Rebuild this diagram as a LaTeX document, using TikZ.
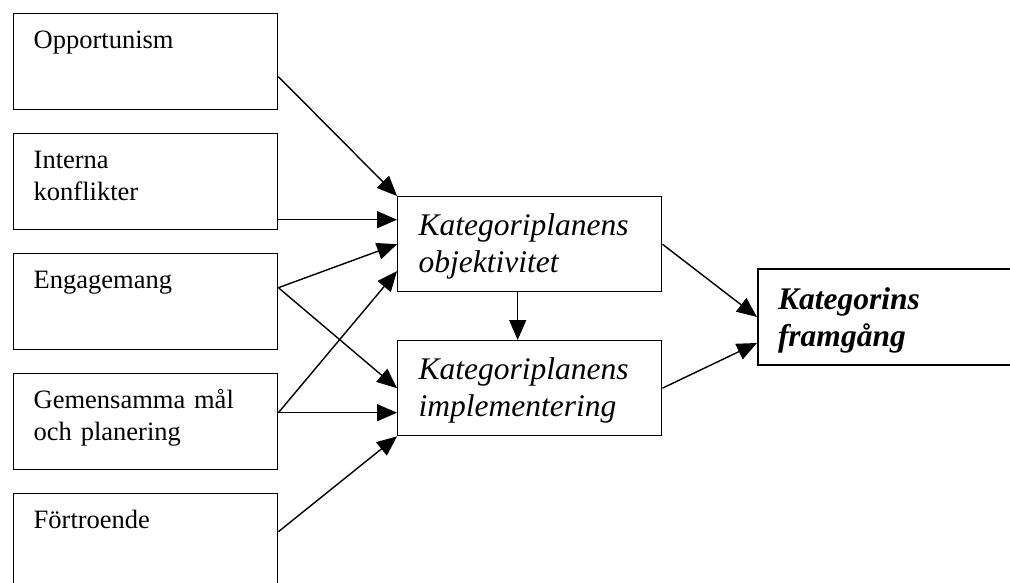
\documentclass[tikz,border=0pt]{standalone}
\usepackage{fontspec}
\setmainfont{Liberation Serif}
\usetikzlibrary{arrows.meta}

\begin{document}
\begin{tikzpicture} [x=1pt, y=-1pt, >={Triangle[length=20pt, width=17pt]},
		factor/.style={draw, line width=1.4pt, anchor=north west, align=left, text width=224pt, inner xsep=20pt, inner ysep=0pt, text height=35pt, text depth=61pt, font=\fontsize{26.5}{32}\selectfont},
		plan/.style={draw, line width=1.4pt, anchor=north west, align=left, text width=222pt, inner xsep=21pt, inner ysep=0pt, text height=39pt, text depth=56pt, font=\fontsize{31.5}{37}\selectfont\itshape}]
		\useasboundingbox (0,0) rectangle (1010,583);
		\clip (0,0) rectangle (1010,583);
		% left side
		\node[factor] (opport) at (13,13) {Opportunism};
		\node[factor] (interna) at (13,133) {Interna\\konflikter};
		\node[factor] (engag) at (13,253) {Engagemang};
		\node[factor] (gemens) at (13,373) {Gemensamma mål\\och planering};
		\node[factor] (fortro) at (13,493) {Förtroende};
		% middle
		\node[plan] (objekt) at (397,196) {Kategoriplanens\\objektivitet};
		\node[plan] (implem) at (397,340) {Kategoriplanens\\implementering};
		% right
		\node[plan, line width=2pt, text width=260pt, inner xsep=20pt, text height=40pt, font=\fontsize{31.5}{37}\selectfont\bfseries\itshape] (framg) at (757,268) {Kategorins\\framgång};
		\draw[->, line width=1.4pt] ([yshift=-15pt]opport.east) -- (objekt.north west);
		\draw[->, line width=1.4pt] ([yshift=-38pt]interna.east) -- ([yshift=-38pt]interna.east -| objekt.west);
		\draw[->, line width=1.4pt] ([yshift=14pt]engag.east) -- (objekt.west);
		\draw[->, line width=1.4pt] ([yshift=14pt]engag.east) -- (implem.west);
		\draw[->, line width=1.4pt] ([yshift=9pt]gemens.east) -- ([yshift=-27pt]objekt.west);
		\draw[->, line width=1.4pt] ([yshift=9pt]gemens.east) -- ([yshift=9pt]gemens.east -| implem.west);
		\draw[->, line width=1.4pt] ([yshift=10pt]fortro.east) -- (implem.south west);
		\draw[->, line width=1.4pt] ([xshift=-12pt]objekt.south) -- ([xshift=-12pt]implem.north);
		\draw[->, line width=1.4pt] (objekt.east) -- (framg.west);
		\draw[->, line width=1.4pt] (implem.east) -- ([yshift=-26pt]framg.west);
		\end{tikzpicture}
\end{document}
